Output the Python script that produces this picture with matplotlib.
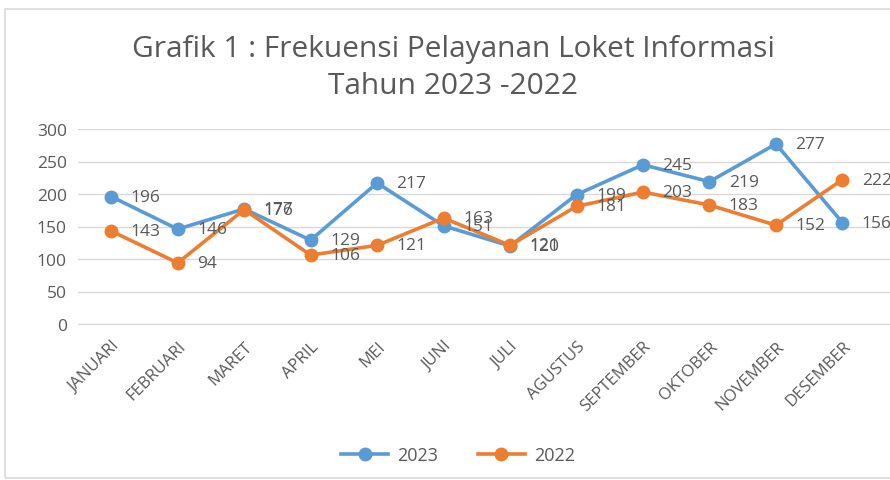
import matplotlib
matplotlib.use("Agg")
import matplotlib.pyplot as plt
from matplotlib.patches import Rectangle

months = ["JANUARI", "FEBRUARI", "MARET", "APRIL", "MEI", "JUNI", "JULI",
          "AGUSTUS", "SEPTEMBER", "OKTOBER", "NOVEMBER", "DESEMBER"]
y2023 = [196, 146, 177, 129, 217, 151, 120, 199, 245, 219, 277, 156]
y2022 = [143, 94, 176, 106, 121, 163, 121, 181, 203, 183, 152, 222]
yticks = [0, 50, 100, 150, 200, 250, 300]

plt.rcParams['font.family'] = ['Open Sans', 'DejaVu Sans']
gray = "#595959"
blue = "#5B9BD5"
orange = "#ED7D31"

fig = plt.figure(figsize=(8.9, 4.81), dpi=100)
fig.patches.append(Rectangle((5/890, 0.005), 1.2, (481-10)/481 - 0.005,
                             transform=fig.transFigure, fill=False,
                             edgecolor="#D9D9D9", linewidth=1.2))

ax = fig.add_axes([78/890, 1 - 325/481, (890-78)/890 + 0.01, (325-130)/481])
x = list(range(len(months)))
ax.plot(x, y2023, color=blue, lw=2.6, marker='o', ms=9, label="2023", zorder=3)
ax.plot(x, y2022, color=orange, lw=2.6, marker='o', ms=9, label="2022", zorder=4)
for xi, v in zip(x, y2023):
    ax.annotate(str(v), (xi, v), xytext=(14, 0), textcoords='offset points',
                ha='left', va='center', fontsize=12.5, color=gray, zorder=5)
for xi, v in zip(x, y2022):
    ax.annotate(str(v), (xi, v), xytext=(14, 0), textcoords='offset points',
                ha='left', va='center', fontsize=12.5, color=gray, zorder=5)

ax.set_xlim(-0.5, 11.5 + 0.35)
ax.set_ylim(0, 300)
ax.set_yticks(yticks)
ax.set_yticklabels([str(t) for t in yticks], fontsize=12.5, color=gray)
ax.set_xticks(x)
ax.set_xticklabels(months, rotation=45, ha='right', rotation_mode='anchor',
                   fontsize=12, color=gray)
ax.tick_params(axis='both', length=0, pad=8)
ax.tick_params(axis='x', pad=10)
ax.grid(axis='y', color="#D9D9D9", lw=1)
ax.set_axisbelow(True)
for s in ax.spines.values():
    s.set_visible(False)
ax.spines['bottom'].set_visible(True)
ax.spines['bottom'].set_color("#D9D9D9")

fig.text(453/890, 1 - 50/481, "Grafik 1 : Frekuensi Pelayanan Loket Informasi",
         ha='center', va='center', fontsize=21.5, color=gray)
fig.text(453/890, 1 - 86/481, "Tahun 2023 -2022",
         ha='center', va='center', fontsize=21.5, color=gray)

fig.legend(loc='center', bbox_to_anchor=(458/890, 1 - 456/481), ncol=2,
           frameon=False, fontsize=13, labelcolor=gray, handlelength=2.6,
           handletextpad=0.5, columnspacing=2.2)

fig.savefig("out.png", dpi=100)
